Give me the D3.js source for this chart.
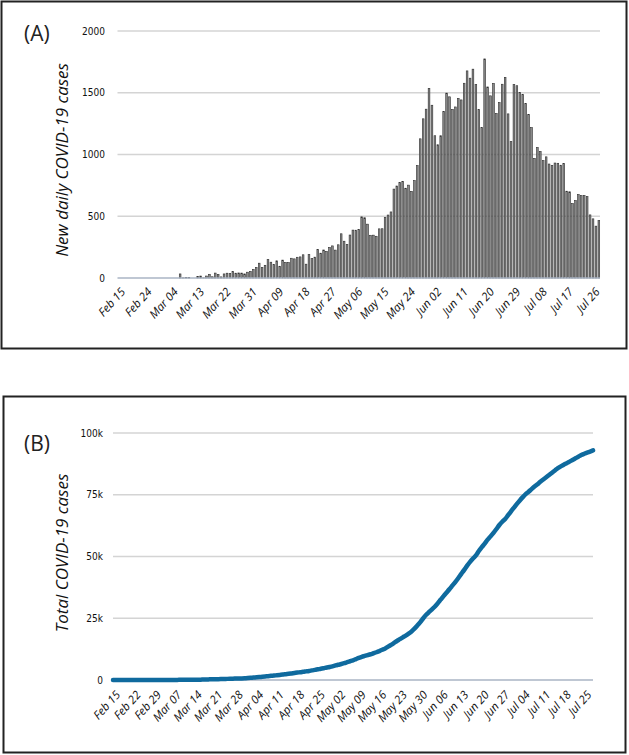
<!DOCTYPE html>
<html>
<head>
<meta charset="utf-8">
<script src="https://cdn.jsdelivr.net/npm/d3@7"></script>
<style>
  html, body { margin: 0; padding: 0; background: #fff; }
  svg { display: block; }
</style>
</head>
<body>
<svg id="chart" width="629" height="755"></svg>
<script>
// ---------------- DATA ----------------
const startDate = "2020-02-15";
// Panel A: new daily cases, Feb 15 .. Jul 28 (165 days)
const dailyCases = [
  // Feb 15 - Feb 29
  0,0,0,0,0,0,0,0,0,0,0,0,0,0,0,
  // Mar 1 - Mar 31
  0,0,0,0,0,0,33,1,3,4,0,0,13,16,1,16,30,10,40,29,9,33,39,36,54,39,41,40,33,47,54,
  // Apr 1 - Apr 30
  69,86,120,85,103,149,128,110,139,95,145,126,125,160,155,168,171,188,112,189,157,169,232,201,227,215,248,260,226,269,
  // May 1 - May 31
  358,298,272,348,388,387,393,495,488,436,346,347,338,398,399,491,510,535,720,745,774,783,727,752,702,789,910,1127,1289,1367,1536,
  // Jun 1 - Jun 30
  1399,1152,1079,1152,1348,1497,1467,1365,1385,1455,1442,1577,1677,1618,1691,1567,1363,1218,1774,1547,1475,1576,1332,1420,1569,1625,1329,1104,1566,1557,
  // Jul 1 - Jul 28
  1503,1485,1412,1324,1218,969,1057,1025,950,981,923,912,931,929,913,928,703,698,603,627,676,667,668,659,511,479,420,465
];
// Panel B: total cases, Feb 15 .. Jul 28 (165 days)
const totalCases = [
  1,1,1,1,1,1,1,1,1,1,1,1,1,1,1,
  2,2,2,2,3,15,48,49,55,59,67,80,93,109,110,126,196,196,256,285,294,327,366,402,456,495,536,576,609,656,710,
  779,865,985,1070,1173,1322,1450,1560,1699,1794,1939,2065,2190,2350,2505,2673,2844,3032,3144,3333,3490,3659,3891,4092,4319,4534,4782,5042,5268,5537,
  5895,6193,6465,6813,7201,7588,7981,8476,8964,9400,9746,10093,10431,10829,11228,11719,12229,12764,13484,14229,15003,15786,16513,17265,17967,18756,19666,20793,22082,23449,24985,
  26384,27536,28615,29767,31115,32612,34079,35444,36829,38284,39726,41303,42980,44598,46289,47856,49219,50437,52211,53758,55233,56809,58141,59561,61130,62755,64084,65188,66754,68311,
  69814,71299,72711,74035,75253,76222,77279,78304,79254,80235,81158,82070,83001,83930,84843,85771,86474,87172,87775,88402,89078,89745,90413,91072,91583,92062,92482,92947
];
const yTicksA = [0, 500, 1000, 1500, 2000];
const yTicksB = [0, 25000, 50000, 75000, 100000];
const yTickLabelsB = ["0", "25k", "50k", "75k", "100k"];
const xTickLabelsA = ["Feb 15","Feb 24","Mar 04","Mar 13","Mar 22","Mar 31","Apr 09","Apr 18","Apr 27","May 06","May 15","May 24","Jun 02","Jun 11","Jun 20","Jun 29","Jul 08","Jul 17","Jul 26"];
const xTickLabelsB = ["Feb 15","Feb 22","Feb 29","Mar 07","Mar 14","Mar 21","Mar 28","Apr 04","Apr 11","Apr 18","Apr 25","May 02","May 09","May 16","May 23","May 30","Jun 06","Jun 13","Jun 20","Jun 27","Jul 04","Jul 11","Jul 18","Jul 25"];

// ---------------- DRAW ----------------
const svg = d3.select("#chart");
const parse = d3.timeParse("%Y-%m-%d");
const fmt = d3.timeFormat("%b %d");
const days = d3.timeDay.range(parse(startDate), d3.timeDay.offset(parse(startDate), dailyCases.length));
const numFont = "'DejaVu Sans Condensed', 'Liberation Sans', Arial, sans-serif";
const txtFont = "'Open Sans', 'Liberation Sans', sans-serif";

// Panel frames
svg.append("rect").attr("x", 1.5).attr("y", 1.5).attr("width", 625).attr("height", 347)
  .attr("fill", "none").attr("stroke", "#222").attr("stroke-width", 2);
svg.append("rect").attr("x", 3.5).attr("y", 396.5).attr("width", 622).attr("height", 356)
  .attr("fill", "none").attr("stroke", "#222").attr("stroke-width", 2);

// ===== Panel A =====
const xA = d3.scaleBand().domain(days.map(fmt)).range([117.5, 600]).paddingInner(0.42).paddingOuter(0.1);
const yA = d3.scaleLinear().domain([0, 2000]).range([278, 31]);
const gA = svg.append("g");

gA.append("g").selectAll("line").data(yTicksA.filter(d => d > 0)).join("line")
  .attr("x1", 117.5).attr("x2", 600).attr("y1", d => yA(d)).attr("y2", d => yA(d))
  .attr("stroke", "#d4d4d4").attr("stroke-width", 1.3);

gA.append("g").selectAll("rect").data(dailyCases).join("rect")
  .attr("x", (d, i) => xA(fmt(days[i])))
  .attr("width", xA.bandwidth())
  .attr("y", d => yA(d))
  .attr("height", d => yA(0) - yA(d))
  .attr("fill", "#8a8a8a").attr("stroke", "#2e2e2e").attr("stroke-width", 0.6);

gA.append("line").attr("x1", 117.5).attr("x2", 600).attr("y1", yA(0)).attr("y2", yA(0))
  .attr("stroke", "#aab4c4").attr("stroke-width", 1.3);

const yAxisA = d3.axisLeft(yA).tickValues(yTicksA).tickFormat(d3.format("d")).tickSize(0).tickPadding(0);
gA.append("g").attr("transform", "translate(105,0)").call(yAxisA)
  .call(g => g.select(".domain").remove())
  .selectAll("text").attr("font-family", numFont).attr("font-size", 10).attr("fill", "#111");

const xAxisA = d3.axisBottom(xA).tickValues(xTickLabelsA).tickSize(0).tickPadding(0);
gA.append("g").attr("transform", "translate(0,291)").call(xAxisA)
  .call(g => g.select(".domain").remove())
  .selectAll("text")
  .attr("font-family", txtFont).attr("font-style", "italic").attr("font-size", 11.5).attr("fill", "#111")
  .attr("text-anchor", "end").attr("dx", "0.35em").attr("dy", "0.55em")
  .attr("transform", "rotate(-48)");

svg.append("text").attr("transform", "translate(68,160) rotate(-90)")
  .attr("text-anchor", "middle").attr("font-family", txtFont).attr("font-style", "italic")
  .attr("font-size", 17).attr("fill", "#111").text("New daily COVID-19 cases");

svg.append("text").attr("x", 24).attr("y", 41).attr("font-family", txtFont)
  .attr("font-size", 21).attr("fill", "#222").text("(A)");

// ===== Panel B =====
const xB = d3.scaleLinear().domain([0, totalCases.length - 1]).range([113, 593]);
const yB = d3.scaleLinear().domain([0, 100000]).range([680, 433]);
const gB = svg.append("g");

gB.append("g").selectAll("line").data(yTicksB.filter(d => d > 0)).join("line")
  .attr("x1", 113).attr("x2", 593).attr("y1", d => yB(d)).attr("y2", d => yB(d))
  .attr("stroke", "#d4d4d4").attr("stroke-width", 1.3);
gB.append("line").attr("x1", 113).attr("x2", 593).attr("y1", yB(0)).attr("y2", yB(0))
  .attr("stroke", "#aab4c4").attr("stroke-width", 1.3);

const line = d3.line().x((d, i) => xB(i)).y(d => yB(d)).curve(d3.curveMonotoneX);
gB.append("path").datum(totalCases).attr("d", line)
  .attr("fill", "none").attr("stroke", "#0f6a9e").attr("stroke-width", 4.5)
  .attr("stroke-linecap", "round").attr("stroke-linejoin", "round");

const yAxisB = d3.axisLeft(yB).tickValues(yTicksB).tickFormat((d, i) => yTickLabelsB[i]).tickSize(0).tickPadding(0);
gB.append("g").attr("transform", "translate(103,0)").call(yAxisB)
  .call(g => g.select(".domain").remove())
  .selectAll("text").attr("font-family", numFont).attr("font-size", 10).attr("fill", "#111");

const tickIdxB = xTickLabelsB.map(l => days.map(fmt).indexOf(l));
const xAxisB = d3.axisBottom(xB).tickValues(tickIdxB).tickFormat((d, i) => xTickLabelsB[i]).tickSize(0).tickPadding(0);
gB.append("g").attr("transform", "translate(0,694)").call(xAxisB)
  .call(g => g.select(".domain").remove())
  .selectAll("text")
  .attr("font-family", txtFont).attr("font-style", "italic").attr("font-size", 11.5).attr("fill", "#111")
  .attr("text-anchor", "end").attr("dx", "0.35em").attr("dy", "0.55em")
  .attr("transform", "rotate(-48)");

svg.append("text").attr("transform", "translate(68,553) rotate(-90)")
  .attr("text-anchor", "middle").attr("font-family", txtFont).attr("font-style", "italic")
  .attr("font-size", 17).attr("fill", "#111").text("Total COVID-19 cases");

svg.append("text").attr("x", 24).attr("y", 451).attr("font-family", txtFont)
  .attr("font-size", 21).attr("fill", "#222").text("(B)");
</script>
</body>
</html>
